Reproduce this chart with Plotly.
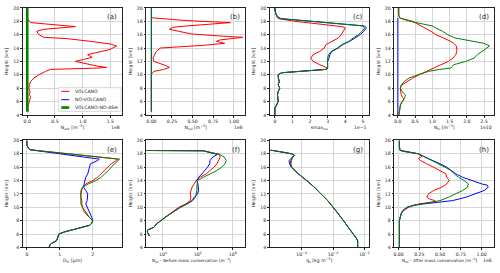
import plotly.graph_objects as go

# ---------------- DATA ----------------
# (a) N_ash [1e8 m^-3]
a_h_volc = [4.5, 5, 5.5, 6, 6.4, 6.7, 7, 7.5, 8, 8.5, 9, 9.5, 10, 10.5, 10.8, 11.0, 11.1, 11.3, 11.7, 12.0, 12.3, 12.6,
            13.0, 13.3, 13.8, 14.3, 14.6, 15.0, 15.4, 15.6, 16.0, 16.5, 16.8, 17.2, 17.5, 17.8, 18.2, 18.5]
a_volc = [0.02, 0.01, 0.02, 0.03, 0.05, 0.06, 0.04, 0.05, 0.03, 0.04, 0.06, 0.12, 0.21, 0.33, 0.42, 1.25, 1.43, 1.26,
          1.02, 0.87, 1.02, 1.17, 1.09, 1.26, 1.50, 1.61, 1.50, 1.14, 0.72, 0.30, 0.21, 0.17, 0.30, 0.87, 0.48, 0.06,
          0.02, 0.0]
a_h_zero = [4.5, 20]
a_novolc = [0, 0]
a_noash = [0, 0]

# (b) N_sul [1e6 m^-3]
b_h_volc = [4.5, 10.0, 10.2, 10.5, 10.8, 11.1, 11.4, 11.7, 12.0, 12.5, 13.0, 13.5, 14.0, 14.2, 14.4, 14.7, 15.0, 15.2,
            15.6, 15.8, 16.1, 16.5, 16.8, 17.1, 17.3, 17.8, 18.1, 18.5, 18.6]
b_volc = [0, 0, 0.01, 0.03, 0.15, 0.22, 0.17, 0.09, 0.03, 0.02, 0.04, 0.06, 0.11, 0.43, 0.63, 0.89, 0.79, 0.83, 1.11,
          0.83, 0.49, 0.33, 0.22, 0.26, 0.43, 0.96, 0.43, 0.02, 0.0]
b_h_zero = [4.5, 20]
b_novolc = [0, 0]
b_noash = [0, 0]

# (c) smax_ice [1e-1]
c_h = [4, 5, 5.5, 6, 6.5, 7, 7.5, 8, 8.5, 9, 9.5, 10, 10.3, 10.5, 10.8, 11.0, 11.5, 12, 12.5, 13, 13.5, 14, 14.5, 15,
       15.5, 16, 16.5, 17, 17.3, 17.6, 18, 18.4, 18.6, 19, 19.5, 20]
c_noash = [0, 0, 0.1, 0.19, 0.17, 0.15, 0.19, 0.28, 0.19, 0.25, 0.2, 0.19, 0.38, 1.5, 2.9, 3.0, 2.98, 2.98, 3.0, 3.05,
           3.2, 3.55, 3.8, 4.2, 4.45, 4.75, 4.95, 5.1, 5.0, 3.8, 2.1, 0.3, 0.15, 0.06, 0.02, 0.0]
c_novolc = [0, 0, 0.1, 0.19, 0.17, 0.15, 0.19, 0.28, 0.19, 0.25, 0.2, 0.19, 0.38, 1.5, 2.9, 3.0, 3.0, 3.0, 3.08, 3.12,
            3.25, 3.6, 3.85, 4.25, 4.55, 4.85, 5.05, 5.2, 5.1, 3.9, 2.2, 0.35, 0.2, 0.08, 0.02, 0.0]
c_h_volc = [4, 5, 5.5, 6, 6.5, 7, 7.5, 8, 8.5, 9, 9.5, 10, 10.3, 10.5, 10.8, 11.0, 11.2, 11.5, 12, 12.5, 13, 13.5, 14,
            14.5, 15, 15.5, 16, 16.5, 17, 17.2, 17.6, 18, 18.4, 18.6, 19, 19.5, 20]
c_volc = [0, 0, 0.1, 0.19, 0.17, 0.15, 0.19, 0.28, 0.19, 0.25, 0.2, 0.19, 0.38, 1.5, 2.9, 3.0, 2.8, 2.55, 2.17, 2.04,
          2.17, 2.55, 2.8, 2.9, 3.25, 3.6, 3.77, 3.9, 4.0, 3.8, 2.45, 1.13, 0.19, 0.15, 0.06, 0.02, 0.0]

# (d) N_hi [1e10 m^-3]
d_h = [4, 4.5, 5, 5.5, 6, 6.3, 6.6, 7, 7.5, 8, 8.5, 9, 9.5, 10, 10.5, 10.8, 11, 11.3, 11.5, 12, 12.5, 13, 13.5, 14,
       14.3, 14.7, 15, 15.5, 16, 16.5, 17, 17.3, 17.6, 18, 18.5, 19, 20]
d_volc = [0.03, 0.04, 0.05, 0.07, 0.12, 0.18, 0.14, 0.1, 0.08, 0.07, 0.12, 0.27, 0.43, 0.62, 0.82, 0.95, 1.05, 1.17,
          1.25, 1.47, 1.6, 1.68, 1.71, 1.71, 1.70, 1.62, 1.53, 1.32, 1.1, 0.96, 0.77, 0.68, 0.58, 0.43, 0.05, 0.02, 0.02]
d_noash = [0.03, 0.04, 0.05, 0.08, 0.13, 0.17, 0.2, 0.22, 0.12, 0.07, 0.1, 0.19, 0.32, 0.58, 0.89, 1.2, 1.54, 1.59,
           1.62, 1.97, 2.21, 2.31, 2.45, 2.6, 2.66, 2.5, 2.16, 1.66, 1.44, 1.3, 1.1, 1.0, 0.72, 0.34, 0.05, 0.03, 0.03]
d_h_zero = [4, 18.5]
d_novolc = [0, 0]

# (e) D_hi [um]
e_h_low = [4, 4.5, 4.8, 5, 5.5, 6, 6.3, 6.6, 7, 7.3, 7.6, 8]
e_low = [0.67, 0.72, 0.82, 0.9, 0.94, 0.97, 1.13, 1.38, 1.74, 1.9, 1.97, 2.0]
e_h_up = [8.5, 9, 9.5, 10, 10.5, 11, 11.5, 12, 12.5, 13, 13.5, 14, 14.5, 15, 15.5, 16, 16.5, 17, 17.2, 18.6, 18.9,
          19.3, 20]
e_novolc_up = [1.97, 1.93, 1.87, 1.83, 1.79, 1.83, 1.83, 1.85, 1.79, 1.72, 1.74, 1.77, 1.79, 1.85, 1.87, 1.9, 1.93,
               2.15, 2.2, 0.1, 0.04, 0.0, 0.0]
e_volc_up = [1.9, 1.79, 1.72, 1.69, 1.67, 1.67, 1.64, 1.64, 1.67, 1.69, 1.79, 2.0, 2.15, 2.26, 2.36, 2.46, 2.56, 2.72,
             2.77, 0.1, 0.04, 0.0, 0.0]
e_noash_up = [1.9, 1.83, 1.74, 1.69, 1.64, 1.64, 1.62, 1.62, 1.64, 1.69, 1.87, 2.1, 2.26, 2.36, 2.48, 2.56, 2.67, 2.79,
              2.82, 0.1, 0.04, 0.0, 0.0]

# (f) N_so before mass conservation [m^-3]
f_h = [5.7, 6.0, 6.3, 6.6, 6.8, 7, 7.5, 8, 8.5, 9, 9.5, 10, 10.5, 11, 11.5, 12, 12.5, 13, 13.5, 14, 14.5, 15, 15.5, 16,
       16.5, 17, 17.5, 17.9, 18.45, 18.5]
f_volc = [1.7e3, 1.4e3, 1.26e3, 1.3e3, 2.3e3, 3.0e3, 4.2e3, 7.1e3, 1.26e4, 2.4e4, 4.2e4, 7.9e4, 2.0e5, 3.6e5, 4.0e5,
          3.6e5, 4.0e5, 4.6e5, 6.2e5, 7.9e5, 1.35e6, 3.0e6, 5.0e6, 8.5e6, 1.23e7, 1.5e7, 1.9e7, 1.75e7, 2.0e6, 3e2]
f_novolc = [1.7e3, 1.4e3, 1.26e3, 1.3e3, 2.3e3, 3.0e3, 4.2e3, 7.1e3, 1.35e4, 2.6e4, 5.0e4, 9.8e4, 2.3e5, 4.6e5, 6.2e5,
            9.5e5, 1.1e6, 1.1e6, 1.0e6, 8.7e5, 1.1e6, 1.7e6, 2.6e6, 3.6e6, 4.7e6, 5.0e6, 7.1e6, 1.3e7, 2.0e6, 3e2]
f_noash = [1.7e3, 1.4e3, 1.26e3, 1.3e3, 2.3e3, 3.0e3, 4.2e3, 7.1e3, 1.35e4, 2.6e4, 5.0e4, 1.0e5, 2.4e5, 5.1e5, 7.1e5,
           7.9e5, 8.7e5, 8.7e5, 8.7e5, 9.5e5, 2.1e6, 5.5e6, 1.23e7, 2.3e7, 3.6e7, 4.2e7, 3.2e7, 1.8e7, 2.0e6, 3e2]

# (g) q_s [kg m^-3]
g_h = [4, 5, 5.3, 6, 7, 8, 9, 10, 11, 12, 13, 14, 15, 16, 16.5, 17, 17.5, 17.8, 18.0, 18.3, 18.5, 18.55]
g_noash = [3.7e-3, 3.7e-3, 3.2e-3, 2.0e-3, 9.5e-4, 4.6e-4, 2.2e-4, 1.05e-4, 4.6e-5, 1.7e-5, 6.5e-6, 2.1e-6, 6.2e-7,
           2.3e-7, 2.1e-7, 2.3e-7, 2.7e-7, 3.4e-7, 2.3e-7, 5.2e-8, 1.4e-8, 1e-9]
g_volc = [3.7e-3, 3.7e-3, 3.2e-3, 2.0e-3, 9.5e-4, 4.6e-4, 2.2e-4, 1.05e-4, 4.6e-5, 1.7e-5, 6.5e-6, 2.1e-6, 6.2e-7,
          2.3e-7, 1.9e-7, 2.0e-7, 2.6e-7, 3.4e-7, 2.3e-7, 5.2e-8, 1.4e-8, 1e-9]
g_novolc = [3.7e-3, 3.7e-3, 3.2e-3, 2.0e-3, 9.5e-4, 4.6e-4, 2.2e-4, 1.05e-4, 4.6e-5, 1.7e-5, 6.5e-6, 2.1e-6, 6.2e-7,
            2.2e-7, 1.7e-7, 1.6e-7, 2.5e-7, 3.4e-7, 2.3e-7, 5.2e-8, 1.4e-8, 1e-9]

# (h) N_so after mass conservation [1e6 m^-3]
h_h_novolc = [4, 5, 6, 7, 8, 9, 9.5, 10, 10.3, 10.5, 10.8, 11, 11.5, 12, 12.5, 13, 13.3, 13.5, 14, 14.5, 15, 15.5, 16,
              16.5, 17, 17.5, 18, 18.3, 18.5, 19, 20]
h_novolc = [0.01, 0.01, 0.01, 0.01, 0.01, 0.03, 0.05, 0.1, 0.18, 0.3, 0.5, 0.65, 0.81, 0.93, 1.03, 1.08, 1.07, 1.0,
            0.87, 0.77, 0.69, 0.64, 0.58, 0.5, 0.4, 0.32, 0.24, 0.08, 0.02, 0.01, 0.01]
h_h_noash = [4, 5, 6, 7, 8, 9, 9.5, 10, 10.3, 10.5, 10.8, 11, 11.5, 12, 12.5, 13, 13.5, 14, 14.5, 15, 15.5, 16, 16.5,
             17, 17.5, 18, 18.3, 18.5, 19, 20]
h_noash = [0.01, 0.01, 0.01, 0.01, 0.01, 0.03, 0.05, 0.1, 0.18, 0.28, 0.4, 0.5, 0.6, 0.69, 0.77, 0.83, 0.84, 0.79,
           0.72, 0.67, 0.63, 0.56, 0.48, 0.38, 0.3, 0.24, 0.08, 0.02, 0.01, 0.01]
h_h_volc = [4, 5, 6, 7, 8, 9, 9.5, 10, 10.3, 10.5, 10.8, 11, 11.2, 11.5, 12, 12.5, 13, 13.5, 14, 14.5, 15, 15.5, 16,
            16.5, 17, 17.3, 17.6, 18, 18.3, 18.5, 19, 20]
h_volc = [0.01, 0.01, 0.01, 0.01, 0.01, 0.03, 0.06, 0.12, 0.18, 0.24, 0.42, 0.44, 0.38, 0.34, 0.36, 0.42, 0.52, 0.58,
          0.61, 0.58, 0.57, 0.5, 0.42, 0.34, 0.26, 0.24, 0.28, 0.24, 0.08, 0.02, 0.01, 0.01]

series_names = ["VOLCANO", "NO-VOLCANO", "VOLCANO-NO-ASH"]
panel_labels = ["(a)", "(b)", "(c)", "(d)", "(e)", "(f)", "(g)", "(h)"]
x_titles = ["N<sub>ash</sub> [m<sup>−3</sup>]", "N<sub>sul</sub> [m<sup>−3</sup>]", "smax<sub>ice</sub>",
            "N<sub>hi</sub> [m<sup>−3</sup>]", "D<sub>hi</sub> [μm]",
            "N<sub>so</sub> – Before mass conservation [m<sup>−3</sup>]", "q<sub>s</sub> [kg m<sup>−3</sup>]",
            "N<sub>so</sub> – After mass conservation [m<sup>−3</sup>]"]
offset_labels = ["1e8", "1e6", "1e−1", "1e10", "", "", "", "1e6"]
height_ticks = [4, 6, 8, 10, 12, 14, 16, 18, 20]

# ---------------- FIGURE ----------------
RED, BLUE, GREEN = "#ff0000", "#0000ff", "#008000"
FONT = "DejaVu Sans"
W, H = 500, 273
col_px = [(22, 121.5), (146, 245), (270, 369), (395, 495)]
row_px = [(6, 115), (141, 250)]
TXT = 4.6

fig = go.Figure()


def add(i, x, y, color, width=1.0):
    fig.add_trace(go.Scatter(x=x, y=y, mode="lines", line=dict(color=color, width=width),
                             xaxis="x" if i == 0 else f"x{i+1}", yaxis="y" if i == 0 else f"y{i+1}",
                             showlegend=False, hoverinfo="skip"))


add(0, a_volc, a_h_volc, RED)
add(0, a_novolc, a_h_zero, BLUE)
add(0, a_noash, a_h_zero, GREEN, 2.6)
add(1, b_volc, b_h_volc, RED)
add(1, b_novolc, b_h_zero, BLUE)
add(1, b_noash, b_h_zero, GREEN)
add(2, c_volc, c_h_volc, RED)
add(2, c_novolc, c_h, BLUE)
add(2, c_noash, c_h, GREEN)
add(3, d_volc, d_h, RED)
add(3, d_novolc, d_h_zero, BLUE)
add(3, d_noash, d_h, GREEN)
add(4, e_low + e_volc_up, e_h_low + e_h_up, RED)
add(4, e_low + e_novolc_up, e_h_low + e_h_up, BLUE)
add(4, e_low + e_noash_up, e_h_low + e_h_up, GREEN)
add(5, f_volc, f_h, RED)
add(5, f_novolc, f_h, BLUE)
add(5, f_noash, f_h, GREEN)
add(6, g_volc, g_h, RED)
add(6, g_novolc, g_h, BLUE)
add(6, g_noash, g_h, GREEN)
add(7, h_volc, h_h_volc, RED)
add(7, h_novolc, h_h_novolc, BLUE)
add(7, h_noash, h_h_noash, GREEN)

x_specs = [
    dict(range=[-0.078, 1.71], tickvals=[0, 0.5, 1.0, 1.5], ticktext=["0.0", "0.5", "1.0", "1.5"]),
    dict(range=[-0.06, 1.137], tickvals=[0, 0.25, 0.5, 0.75, 1.0], ticktext=["0.00", "0.25", "0.50", "0.75", "1.00"]),
    dict(range=[-0.28, 5.32], tickvals=[0, 1, 2, 3, 4, 5], ticktext=["0", "1", "2", "3", "4", "5"]),
    dict(range=[-0.1, 2.79], tickvals=[0, 0.5, 1.0, 1.5, 2.0, 2.5], ticktext=["0.0", "0.5", "1.0", "1.5", "2.0", "2.5"]),
    dict(range=[-0.12, 2.89], tickvals=[0, 1, 2], ticktext=["0", "1", "2"]),
    dict(type="log", range=[3.05, 8.7], tickvals=[1e4, 1e6, 1e8],
         ticktext=["10<sup>4</sup>", "10<sup>6</sup>", "10<sup>8</sup>"]),
    dict(type="log", range=[-8.02, -1.74], tickvals=[1e-6, 1e-4, 1e-2],
         ticktext=["10<sup>−6</sup>", "10<sup>−4</sup>", "10<sup>−2</sup>"]),
    dict(range=[-0.05, 1.15], tickvals=[0, 0.25, 0.5, 0.75, 1.0], ticktext=["0.00", "0.25", "0.50", "0.75", "1.00"]),
]
# long titles (f, h) are placed as annotations so they sit clear of the offset label
long_title = {5: 0.46, 7: 0.45}

axis_common = dict(showgrid=True, gridcolor="#d6d6d6", gridwidth=0.8, showline=True, linecolor="#222",
                   linewidth=0.8, mirror=True, ticks="outside", ticklen=2, tickwidth=0.6, tickcolor="#222",
                   tickfont=dict(size=TXT, color="#222", family=FONT), zeroline=False, fixedrange=True)

layout = dict(width=W, height=H, margin=dict(l=0, r=0, t=0, b=0), paper_bgcolor="white", plot_bgcolor="white",
              font=dict(family=FONT, color="#222"), showlegend=False)
annotations = []
for i in range(8):
    r, c = divmod(i, 4)
    x0, x1 = col_px[c]
    y0, y1 = row_px[r]
    xd = [x0 / W, x1 / W]
    yd = [1 - y1 / H, 1 - y0 / H]
    sfx = "" if i == 0 else str(i + 1)
    xa = dict(axis_common, domain=xd, anchor="y" + sfx, **x_specs[i])
    if i in long_title:
        annotations.append(dict(text=x_titles[i], xref=f"x{sfx} domain", yref=f"y{sfx} domain", x=long_title[i],
                                y=-0.12, xanchor="center", yanchor="middle", showarrow=False,
                                font=dict(size=4.2, family=FONT, color="#222")))
    else:
        xa["title"] = dict(text=x_titles[i], font=dict(size=TXT, family=FONT), standoff=2)
    ya = dict(axis_common, domain=yd, anchor="x" + sfx, range=[4, 20], tickvals=height_ticks,
              title=dict(text="Height [km]", font=dict(size=TXT, family=FONT), standoff=4))
    layout["xaxis" + sfx] = xa
    layout["yaxis" + sfx] = ya
    annotations.append(dict(text=panel_labels[i], xref=f"x{sfx} domain", yref=f"y{sfx} domain", x=0.965, y=0.915,
                            xanchor="right", yanchor="middle", showarrow=False,
                            font=dict(size=7, family=FONT, color="#222")))
    if offset_labels[i]:
        annotations.append(dict(text=offset_labels[i], xref=f"x{sfx} domain", yref=f"y{sfx} domain", x=1.0,
                                y=-0.12, xanchor="right", yanchor="middle", showarrow=False,
                                font=dict(size=TXT, family=FONT, color="#222")))

# legend drawn inside panel (a)
shapes = [dict(type="rect", xref="paper", yref="paper", x0=57.5 / W, x1=120.5 / W, y0=1 - 111.5 / H,
               y1=1 - 87 / H, line=dict(color="#cccccc", width=0.7), fillcolor="rgba(255,255,255,0.85)")]
leg_y = [91, 99.5, 107.5]
leg_col = [RED, BLUE, GREEN]
leg_w = [1.0, 1.0, 2.6]
for name, yy, col, lw in zip(series_names, leg_y, leg_col, leg_w):
    shapes.append(dict(type="line", xref="paper", yref="paper", x0=60.5 / W, x1=68.5 / W, y0=1 - yy / H,
                       y1=1 - yy / H, line=dict(color=col, width=lw)))
    annotations.append(dict(text=name, xref="paper", yref="paper", x=72.5 / W, y=1 - yy / H, xanchor="left",
                            yanchor="middle", showarrow=False, font=dict(size=TXT, family=FONT, color="#222")))

layout["annotations"] = annotations
layout["shapes"] = shapes
fig.update_layout(**layout)
fig.write_html("out.html")
